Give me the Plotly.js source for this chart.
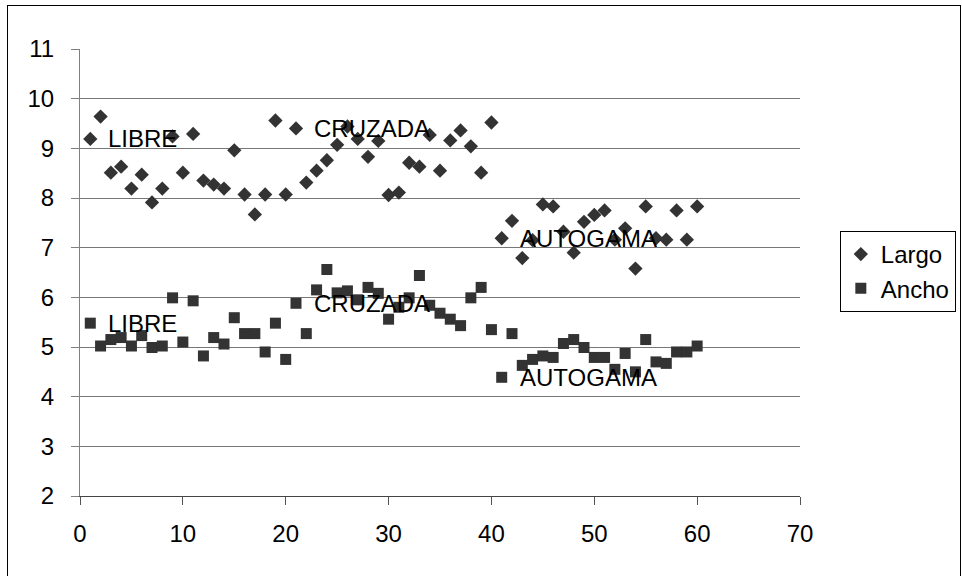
<!DOCTYPE html>
<html>
<head>
<meta charset="utf-8">
<script src="https://cdn.plot.ly/plotly-3.0.1.min.js"></script>
<style>
  html, body { margin: 0; padding: 0; background: #fff; }
  #wrap { position: relative; width: 962px; height: 576px; overflow: hidden; }
  #chart { position: absolute; left: 0; top: 0; width: 962px; height: 576px; }
  #frame { position: absolute; left: 7px; top: 5px; width: 952px; height: 600px; border: 1px solid #000; pointer-events: none; }
</style>
</head>
<body>
<div id="wrap">
  <div id="chart"></div>
  <div id="frame"></div>
</div>
<script>
const sampleIndex = [1,2,3,4,5,6,7,8,9,10,11,12,13,14,15,16,17,18,19,20,21,22,23,24,25,26,27,28,29,30,31,32,33,34,35,36,37,38,39,40,41,42,43,44,45,46,47,48,49,50,51,52,53,54,55,56,57,58,59,60];

const largo = [9.19,9.64,8.51,8.63,8.19,8.47,7.91,8.19,9.24,8.51,
               9.29,8.35,8.27,8.19,8.96,8.07,7.67,8.07,9.56,8.07,
               9.40,8.31,8.55,8.76,9.07,9.44,9.19,8.83,9.15,8.06,
               8.11,8.71,8.63,9.27,8.55,9.16,9.36,9.04,8.51,9.52,
               7.19,7.54,6.79,7.15,7.87,7.83,7.32,6.90,7.52,7.66,
               7.75,7.16,7.39,6.58,7.83,7.19,7.16,7.75,7.16,7.83];

const ancho = [5.48,5.02,5.15,5.19,5.02,5.23,4.99,5.02,5.99,5.10,
               5.93,4.82,5.19,5.06,5.59,5.27,5.27,4.90,5.48,4.75,
               5.88,5.27,6.15,6.56,6.09,6.13,5.95,6.20,6.08,5.56,
               5.80,5.99,6.44,5.84,5.68,5.56,5.43,5.99,6.20,5.35,
               4.39,5.27,4.63,4.75,4.82,4.79,5.07,5.15,4.99,4.79,
               4.79,4.55,4.87,4.50,5.15,4.70,4.67,4.90,4.90,5.02];

const seriesNames = ['Largo', 'Ancho'];
const groupLabels = ['LIBRE', 'CRUZADA', 'AUTOGAMA'];
const groupStartIndex = [1, 21, 41];

const xTickVals = [0,10,20,30,40,50,60,70];
const yTickVals = [2,3,4,5,6,7,8,9,10,11];

const FONT = 'Liberation Sans, Arial, sans-serif';
const markColor = '#333333';

const traces = [
  { x: sampleIndex, y: largo, name: seriesNames[0], type: 'scatter', mode: 'markers',
    marker: { symbol: 'diamond', size: 11, color: markColor } },
  { x: sampleIndex, y: ancho, name: seriesNames[1], type: 'scatter', mode: 'markers',
    marker: { symbol: 'square', size: 11, color: markColor } }
];

const annotations = [];
[largo, ancho].forEach(series => {
  groupStartIndex.forEach((idx, i) => {
    annotations.push({
      x: idx, y: series[idx - 1], xref: 'x', yref: 'y',
      text: groupLabels[i], showarrow: false,
      xanchor: 'left', yanchor: 'middle', xshift: 16,
      font: { family: FONT, size: 24, color: '#000' }
    });
  });
});

const layout = {
  width: 962, height: 576,
  margin: { l: 80, r: 162, t: 49, b: 80 },
  paper_bgcolor: '#fff', plot_bgcolor: '#fff',
  font: { family: FONT, size: 22, color: '#000' },
  showlegend: true,
  legend: {
    xref: 'container', yref: 'container',
    x: 0.873, xanchor: 'left', y: 0.599, yanchor: 'top',
    bordercolor: '#000', borderwidth: 1, bgcolor: '#fff',
    font: { family: FONT, size: 24, color: '#000' },
    itemwidth: 30
  },
  xaxis: {
    range: [0, 70], tickvals: xTickVals, ticks: 'outside', ticklen: 8, tickcolor: '#555',
    showgrid: false, zeroline: false, showline: true, linecolor: '#444', linewidth: 1,
    tickfont: { family: FONT, size: 24, color: '#000' }, ticklabelstandoff: 8
  },
  yaxis: {
    range: [2, 11], tickvals: yTickVals, ticks: 'outside', ticklen: 8, tickcolor: '#808080',
    showgrid: true, gridcolor: '#777777', gridwidth: 1, zeroline: false,
    showline: true, linecolor: '#808080', linewidth: 1,
    tickfont: { family: FONT, size: 24, color: '#000' }, ticklabelstandoff: 12
  },
  annotations: annotations
};

Plotly.newPlot('chart', traces, layout, { staticPlot: true, displayModeBar: false });
</script>
</body>
</html>
